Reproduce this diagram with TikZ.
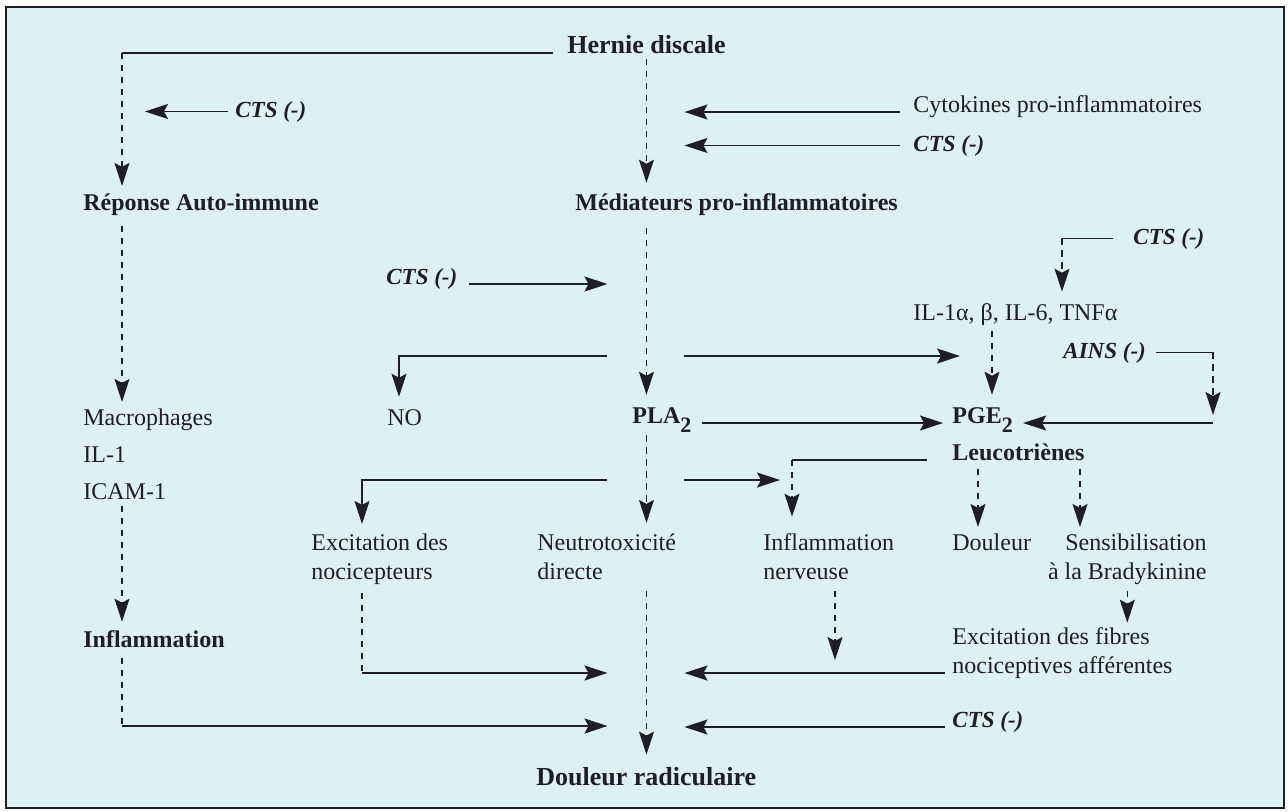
\documentclass[tikz,border=0pt]{standalone}
\usepackage{fontspec}
\setmainfont{Liberation Serif}
\usepackage{xcolor}
\definecolor{paper}{RGB}{221,241,243}
\definecolor{ink}{RGB}{30,30,38}
\usetikzlibrary{arrows.meta}
\newcommand{\subtwo}[1]{\raisebox{-4.5pt}{\fontsize{11}{12}\selectfont #1}}

\tikzset{
	txt/.style={inner sep=0pt, anchor=base west, text=ink, font=\fontsize{12}{14.5}\selectfont},
	boldtxt/.style={txt, font=\fontsize{12}{14.5}\selectfont\bfseries},
	endtxt/.style={txt, font=\fontsize{13}{15.5}\selectfont\bfseries},
	drugtxt/.style={txt, font=\fontsize{11.5}{14}\selectfont\bfseries\itshape},
	solidln/.style={draw=ink, line width=0.7pt},
	dashln/.style={solidln, dash pattern=on 3.2pt off 2.8pt},
	arr/.style={-{Stealth[length=11.5pt,width=7.5pt,inset=2pt]}}
}

\begin{document}
\begin{tikzpicture}[x=0.5pt,y=-0.5pt]
		%frame
		\useasboundingbox (0,0) rectangle (1288,811);
		\fill[white] (0,0) rectangle (1288,811);
		\filldraw[fill=paper, draw=ink, line width=1.4pt] (6,7) rectangle (1284,808);
		
		%columns & rows of the connectors
		\coordinate (xa) at (122,0);
		\coordinate (xex) at (362,0);
		\coordinate (xno) at (399,0);
		\coordinate (xnv) at (792,0);
		\coordinate (xnv2) at (835,0);
		\coordinate (xd) at (978,0);
		\coordinate (xpg) at (992,0);
		\coordinate (xil) at (1062,0);
		\coordinate (xs) at (1080,0);
		\coordinate (xai) at (1213,0);
		\coordinate (ya) at (0,356);
		\coordinate (yb) at (0,480);
		\coordinate (yc) at (0,673);
		\coordinate (yd) at (0,726);
		
		%texts (two-line texts sit on their last line)
		\node[endtxt] (hernie) at (567,53) {Hernie discale};
		\node[drugtxt] (cts1) at (235,117) {CTS (-)};
		\node[boldtxt] (reponse) at (83,210) {Réponse Auto-immune};
		\node[txt] (cyto) at (913,112) {Cytokines pro-inflammatoires};
		\node[drugtxt] (cts2) at (913,151) {CTS (-)};
		\node[boldtxt] (mediat) at (575,210) {Médiateurs pro-inflammatoires};
		\node[drugtxt] (cts3) at (1133,244) {CTS (-)};
		\node[drugtxt] (cts4) at (386,284) {CTS (-)};
		\node[txt] (ilcyt) at (913,320) {IL-1α, β, IL-6, TNFα};
		\node[drugtxt] (ains) at (1063,358) {AINS (-)};
		\node[txt] (no) at (387,425) {NO};
		\node[boldtxt] (pla) at (632,423) {PLA\subtwo{2}};
		\node[boldtxt] (pge) at (952,423) {PGE\subtwo{2}};
		\node[txt] (macro) at (83,425) {Macrophages};
		\node[txt] (il1) at (83,462) {IL-1};
		\node[txt] (icam) at (83,499) {ICAM-1};
		\node[boldtxt] (leuco) at (952,460) {Leucotriènes};
		\node[txt, align=left] (excit) at (311,579) {Excitation des\\nocicepteurs};
		\node[txt, align=left] (neuro) at (537,579) {Neutrotoxicité\\directe};
		\node[txt, align=left] (infnerv) at (763,579) {Inflammation\\nerveuse};
		\node[txt] (douleur) at (952,550) {Douleur};
		\node[txt, align=right, anchor=base east] (sensib) at (1207,579) {Sensibilisation\\à la Bradykinine};
		\node[boldtxt] (inflam) at (83,647) {Inflammation};
		\node[txt, align=left] (fibres) at (952,673) {Excitation des fibres\\nociceptives afférentes};
		\node[drugtxt] (cts5) at (952,727) {CTS (-)};
		\node[endtxt] (radic) at (536,785) {Douleur radiculaire};
		
		%auto-immune branch
		\draw[solidln, shorten <=7pt] (hernie.base west) -- (xa |- hernie.base);
		\draw[dashln, arr, shorten >=3.5pt] (xa |- hernie.base) -- (xa |- reponse.north);
		\draw[solidln, arr, shorten <=3.5pt, shorten >=11.5pt] (cts1.west) -- (xa |- cts1.west);
		\draw[dashln, arr, shorten <=5pt, shorten >=3pt] (xa |- reponse.south) -- (xa |- macro.north);
		\draw[dashln, arr, shorten <=3pt, shorten >=4pt] (xa |- icam.south) -- (xa |- inflam.north);
		\draw[dashln, shorten <=5pt] (xa |- inflam.south) -- (xa |- yd);
		\draw[solidln, arr, shorten >=19.5pt] (xa |- yd) -- (hernie.south |- yd);
		
		%central axis
		\draw[dashln, arr, shorten <=2.5pt, shorten >=5pt] (hernie.south) -- (hernie.south |- mediat.north);
		\draw[solidln, arr, shorten <=6.5pt, shorten >=19pt] (cyto.base west) -- (hernie.south |- cyto.base);
		\draw[solidln, arr, shorten <=6.5pt, shorten >=19pt] (cts2.west) -- (hernie.south |- cts2.west);
		\draw[dashln, arr, shorten <=6pt, shorten >=6pt] (hernie.south |- mediat.south) -- (hernie.south |- pla.north);
		\draw[solidln, arr, shorten <=5.5pt, shorten >=19.5pt] (cts4.base east) -- (hernie.south |- cts4.base);
		\draw[dashln, arr, shorten <=1.5pt, shorten >=5pt] (hernie.south |- pla.south) -- (hernie.south |- neuro.north);
		\draw[dashln, arr, shorten <=5.5pt, shorten >=6pt] (hernie.south |- neuro.south) -- (hernie.south |- radic.north);
		
		%NO and cytokines
		\draw[solidln, arr, shorten <=19.5pt, shorten >=6pt] (hernie.south |- ya) -| (xno |- no.north);
		\draw[solidln, arr, shorten <=19pt, shorten >=-4pt] (hernie.south |- ya) -- (pge.west |- ya);
		\draw[solidln, shorten <=10pt] (cts3.west) -- (xil |- cts3.west);
		\draw[dashln, arr, shorten >=5.5pt] (xil |- cts3.west) -- (xil |- ilcyt.north);
		\draw[dashln, arr, shorten <=2.5pt, shorten >=6pt] (xpg |- ilcyt.south) -- (xpg |- pge.north);
		\draw[solidln, shorten <=5pt] (ains.east) -- (xai |- ains.east);
		\draw[dashln, arr, shorten >=4pt] (xai |- ains.east) -- (xai |- pge.base);
		\draw[solidln, arr, shorten >=5pt] (xai |- pge.base) -- (pge.base east);
		\draw[solidln, arr, shorten <=5pt, shorten >=4.5pt] (pla.base east) -- (pge.base west);
		
		%excitation and inflammation nerveuse
		\draw[solidln, arr, shorten <=19.5pt, shorten >=4.5pt] (hernie.south |- yb) -| (xex |- excit.north);
		\draw[solidln, arr, shorten <=19pt, shorten >=6pt] (hernie.south |- yb) -- (xnv |- yb);
		\draw[solidln, shorten <=12.5pt] (leuco.base west) -- (xnv |- leuco.base);
		\draw[dashln, arr, shorten >=8pt] (xnv |- leuco.base) -- (xnv |- infnerv.north);
		\draw[dashln, arr, shorten <=4pt, shorten >=3pt] (xd |- leuco.south) -- (xd |- douleur.north);
		\draw[dashln, arr, shorten <=4pt, shorten >=3pt] (xs |- leuco.south) -- (xs |- sensib.north);
		\draw[dashln, arr, shorten <=3pt, shorten >=2pt] (sensib.south) -- (sensib.south |- fibres.north);
		
		%to douleur radiculaire
		\draw[dashln, shorten <=4pt] (xex |- excit.south) -- (xex |- yc);
		\draw[solidln, arr, shorten >=19.5pt] (xex |- yc) -- (hernie.south |- yc);
		\draw[dashln, arr, shorten <=5.5pt, shorten >=6.5pt] (xnv2 |- infnerv.south) -- (xnv2 |- yc);
		\draw[solidln, arr, shorten <=3.5pt, shorten >=19pt] (fibres.west |- yc) -- (hernie.south |- yc);
		\draw[solidln, arr, shorten <=3.5pt, shorten >=19pt] (cts5.base west) -- (hernie.south |- cts5.base);
\end{tikzpicture}
\end{document}
